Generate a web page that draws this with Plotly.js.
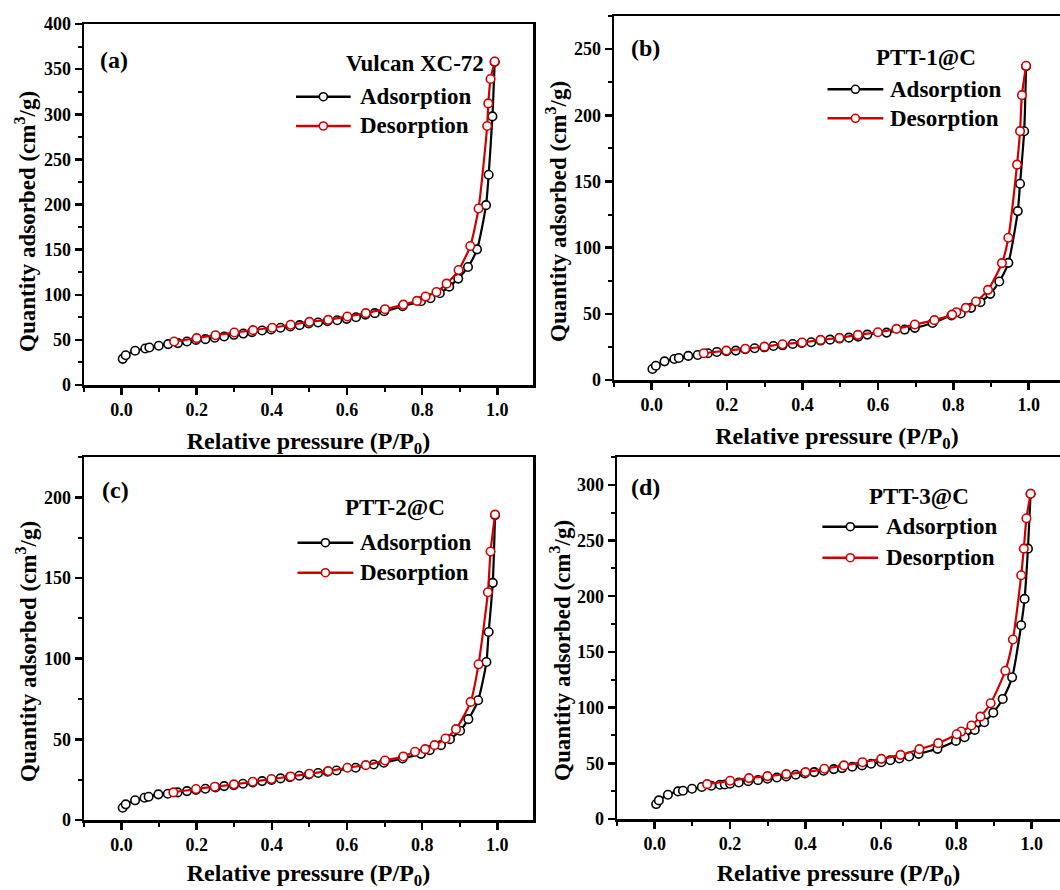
<!DOCTYPE html>
<html>
<head>
<meta charset="utf-8">
<script src="https://cdn.plot.ly/plotly-3.0.1.min.js"></script>
<style>html,body{margin:0;padding:0;background:#fff;}#chart{width:1060px;height:890px;}</style>
</head>
<body>
<div id="chart"></div>
<script>
// ---------------- DATA ----------------
const panelLetters = ['(a)', '(b)', '(c)', '(d)'];
const sampleNames = ['Vulcan XC-72', 'PTT-1@C', 'PTT-2@C', 'PTT-3@C'];
const seriesNames = ['Adsorption', 'Desorption'];
const xTitle = 'Relative pressure (P/P<sub>0</sub>)';
const yTitle = 'Quantity adsorbed (cm<sup>3</sup>/g)';

// (a) Vulcan XC-72
const aAdsX = [0.003,0.011,0.036,0.063,0.074,0.099,0.124,0.150,0.174,0.198,0.223,0.248,0.273,0.299,0.324,0.347,0.374,0.398,0.423,0.449,0.474,0.498,0.523,0.548,0.574,0.599,0.624,0.649,0.674,0.699,0.748,0.797,0.822,0.847,0.872,0.896,0.922,0.946,0.970,0.977,0.987,0.993];
const aAdsY = [29,33,38,40.5,41.6,43.5,45.3,46.4,48.2,50,50.8,52.3,53.8,55.6,57,58.6,60.4,61.5,63.4,64.8,66.3,68.1,69.2,70.7,71.8,73.3,75.1,78,79.6,81.8,87.3,92.8,96.1,101.7,109,117.9,130.8,150.3,199.3,233,297.6,358];
const aDesX = [0.993,0.982,0.976,0.973,0.950,0.928,0.897,0.865,0.838,0.809,0.786,0.750,0.701,0.650,0.601,0.550,0.500,0.450,0.401,0.350,0.300,0.250,0.200,0.140];
const aDesY = [358.4,339,312,287,195.6,154,127.4,112.3,103,98,93.2,89.1,84,79.6,75.9,72.2,70,66.7,63.4,60.8,58.2,55.2,51.9,48.2];

// (b) PTT-1@C
const bAdsX = [0.002,0.011,0.034,0.060,0.072,0.097,0.122,0.149,0.173,0.198,0.223,0.248,0.273,0.299,0.323,0.347,0.374,0.398,0.423,0.448,0.473,0.498,0.523,0.548,0.572,0.623,0.671,0.698,0.745,0.795,0.820,0.847,0.872,0.898,0.922,0.946,0.971,0.977,0.988,0.993];
const bAdsY = [8.3,10.8,14.1,15.9,16.6,18.2,18.9,20.2,21.2,21.7,22.2,23.2,24,24.7,25.7,26.2,27.2,28,28.5,29.8,30.5,31.3,32,32.8,34.3,35.8,38.1,39.4,43.1,48.7,50.2,54.5,58.8,65.1,74.4,88.5,127.6,148.3,187.9,237];
const bDesX = [0.993,0.982,0.977,0.969,0.946,0.929,0.892,0.860,0.833,0.808,0.797,0.750,0.698,0.649,0.600,0.547,0.498,0.448,0.399,0.347,0.299,0.248,0.198,0.138];
const bDesY = [237.4,215.2,188,162.7,107.5,88.3,68.1,59.3,54.5,51.2,49.4,45.2,41.9,38.6,36.1,34.1,31.8,30.3,28.3,27,25.2,23.6,22.2,20.2];

// (c) PTT-2@C
const cAdsX = [0.003,0.011,0.036,0.061,0.072,0.098,0.123,0.149,0.174,0.198,0.223,0.250,0.273,0.299,0.323,0.349,0.374,0.399,0.423,0.448,0.473,0.498,0.523,0.548,0.572,0.623,0.671,0.698,0.748,0.797,0.820,0.850,0.874,0.901,0.923,0.949,0.971,0.977,0.988,0.994];
const cAdsY = [7.6,9.7,12.2,13.8,14.4,15.9,16.3,17.1,17.9,18.6,19.4,20.2,21,21.6,22.5,23.3,24.1,24.9,25.8,26.6,27.4,28.2,29.1,29.9,30.7,32.4,34.4,35.5,38.1,41,43.3,46.4,50.1,55.3,62.5,74.2,97.9,116.5,147,189];
const cDesX = [0.994,0.982,0.975,0.950,0.929,0.890,0.862,0.833,0.808,0.781,0.750,0.701,0.650,0.601,0.550,0.500,0.450,0.399,0.349,0.299,0.248,0.198,0.138];
const cDesY = [189.3,166.4,141.2,96.5,73.2,56.3,50.5,46.4,43.9,42.3,39.4,36.9,34,32.4,30.3,28.7,27,25.4,23.7,22.1,20.6,19.2,17.1];

// (d) PTT-3@C
const dAdsX = [0.004,0.011,0.035,0.062,0.075,0.099,0.125,0.150,0.173,0.186,0.200,0.223,0.248,0.274,0.299,0.324,0.349,0.374,0.398,0.423,0.448,0.475,0.497,0.524,0.550,0.574,0.601,0.625,0.649,0.675,0.700,0.750,0.799,0.822,0.849,0.874,0.898,0.923,0.948,0.972,0.981,0.990,0.997];
const dAdsY = [13.4,16.7,21.8,24.8,25.4,27.2,28.7,29.9,30.7,31,31.6,32.8,34,34.9,36.1,37.3,38.2,39.7,40.9,42.1,43.3,44.8,45.7,46.9,48.1,49.6,51,52.8,54.3,56.1,58.5,63,70.1,73.4,80,86.9,95.5,107.8,127.2,174,197.6,242.7,292];
const dDesX = [0.997,0.986,0.979,0.972,0.950,0.930,0.891,0.864,0.840,0.813,0.801,0.752,0.702,0.652,0.601,0.551,0.502,0.450,0.400,0.349,0.299,0.250,0.200,0.139];
const dDesY = [292,270,242.7,218.8,161.2,133.1,103.9,91.9,83.9,78.5,76.1,68.1,62.7,57.6,54,51,48.1,45.1,42.1,40.3,38.5,36.7,34.3,31.3];

const yMax = [400, 275, 225, 325];

// ---------------- STYLE / LAYOUT ----------------
const W = 1060, H = 890;
const FONT = 'Liberation Serif, Times New Roman, serif';
const seriesColors = ['#000000', '#d00000'];
const px = v => v / W;
const py = v => 1 - v / H;

// plot boxes in pixels
const boxes = [
  {l: 84,  r: 533,  t: 24,  b: 385, xr: [-0.1, 1.095], mirrorY: true},
  {l: 614, r: 1060, t: 16,  b: 380, xr: [-0.1, 1.083], mirrorY: false},
  {l: 84,  r: 533,  t: 457, b: 820, xr: [-0.1, 1.095], mirrorY: true},
  {l: 617, r: 1060, t: 457, b: 819, xr: [-0.1, 1.075], mirrorY: false}
];
// legend/labels placement in pixels
const deco = [
  {lab: [113.7, 60],  title: [415, 63.3],  rows: [96.7, 126],   line: [296, 350.7],  text: 358.3, ytl: [25, 222]},
  {lab: [645, 48.3],  title: [926, 58.3],  rows: [89.3, 118.3], line: [827.5, 883.3], text: 888, ytl: [556, 212]},
  {lab: [115, 490],   title: [394.7, 508.3], rows: [542.7, 572.7], line: [297.5, 353.3], text: 358.4, ytl: [26, 652]},
  {lab: [645.7, 486.7], title: [918.8, 496.7], rows: [526.7, 557.7], line: [822.4, 878.2], text: 884.3, ytl: [560, 651]}
];

const allData = [
  [[aAdsX, aAdsY], [aDesX, aDesY]],
  [[bAdsX, bAdsY], [bDesX, bDesY]],
  [[cAdsX, cAdsY], [cDesX, cDesY]],
  [[dAdsX, dAdsY], [dDesX, dDesY]]
];

const traces = [];
const layout = {
  width: W, height: H,
  margin: {l: 0, r: 0, t: 0, b: 0},
  paper_bgcolor: '#ffffff', plot_bgcolor: '#ffffff',
  showlegend: false,
  font: {family: FONT, color: '#000', size: 18, weight: 'bold'},
  annotations: [], shapes: []
};

allData.forEach((pair, i) => {
  const sfx = i === 0 ? '' : String(i + 1);
  pair.forEach((xy, s) => {
    traces.push({
      type: 'scatter', mode: 'lines+markers',
      x: xy[0], y: xy[1],
      name: seriesNames[s],
      xaxis: 'x' + sfx, yaxis: 'y' + sfx,
      line: {color: seriesColors[s], width: 2.2, shape: 'spline', smoothing: 0.6},
      marker: {symbol: 'circle', size: 8.5, color: '#ffffff', line: {color: seriesColors[s], width: 1.6}},
      cliponaxis: false,
      hoverinfo: 'x+y'
    });
  });
  const bx = boxes[i];
  layout['xaxis' + sfx] = {
    domain: [px(bx.l), px(bx.r)], anchor: 'y' + sfx, range: bx.xr,
    showline: true, linecolor: '#000', linewidth: 2.5, mirror: true,
    showgrid: false, zeroline: false,
    ticks: 'outside', ticklen: 7, tickwidth: 2.5, tickcolor: '#000',
    tick0: 0, dtick: 0.2, tickformat: '.1f',
    minor: {ticks: 'outside', ticklen: 4, tickwidth: 2, tickcolor: '#000', dtick: 0.1, tick0: 0, showgrid: false},
    tickfont: {family: FONT, size: 18, weight: 'bold', color: '#000'},
    title: {text: xTitle, font: {family: FONT, size: 24, weight: 'bold', color: '#000'}, standoff: 13}
  };
  layout['yaxis' + sfx] = {
    domain: [py(bx.b), py(bx.t)], anchor: 'x' + sfx, range: [0, yMax[i]],
    showline: true, linecolor: '#000', linewidth: 2.5, mirror: bx.mirrorY,
    showgrid: false, zeroline: false,
    ticks: 'outside', ticklen: 7, tickwidth: 2.5, tickcolor: '#000',
    tick0: 0, dtick: 50,
    minor: {ticks: 'outside', ticklen: 4, tickwidth: 2, tickcolor: '#000', dtick: 25, tick0: 0, showgrid: false},
    tickfont: {family: FONT, size: 18, weight: 'bold', color: '#000'}
  };

  const d = deco[i];
  // y-axis title (placed as in the reference, slightly below the plot centre)
  layout.annotations.push({
    xref: 'paper', yref: 'paper', x: px(d.ytl[0]), y: py(d.ytl[1]),
    xanchor: 'center', yanchor: 'middle', showarrow: false, textangle: -90,
    text: yTitle, font: {family: FONT, size: 23, weight: 'bold', color: '#000'}
  });
  layout.annotations.push({
    xref: 'paper', yref: 'paper', x: px(d.lab[0]), y: py(d.lab[1]),
    xanchor: 'center', yanchor: 'middle', showarrow: false,
    text: panelLetters[i], font: {family: FONT, size: 24, weight: 'bold', color: '#000'}
  });
  layout.annotations.push({
    xref: 'paper', yref: 'paper', x: px(d.title[0]), y: py(d.title[1]),
    xanchor: 'center', yanchor: 'middle', showarrow: false,
    text: sampleNames[i], font: {family: FONT, size: 23, weight: 'bold', color: '#000'}
  });
  seriesNames.forEach((nm, s) => {
    const yy = py(d.rows[s]);
    layout.shapes.push({
      type: 'line', xref: 'paper', yref: 'paper',
      x0: px(d.line[0]), x1: px(d.line[1]), y0: yy, y1: yy,
      line: {color: seriesColors[s], width: 2.5}
    });
    layout.shapes.push({
      type: 'circle', xref: 'paper', yref: 'paper',
      xsizemode: 'pixel', ysizemode: 'pixel',
      xanchor: px((d.line[0] + d.line[1]) / 2), yanchor: yy,
      x0: -4, x1: 4, y0: -4, y1: 4,
      fillcolor: '#ffffff', line: {color: seriesColors[s], width: 1.6}
    });
    layout.annotations.push({
      xref: 'paper', yref: 'paper', x: px(d.text), y: yy,
      xanchor: 'left', yanchor: 'middle', showarrow: false,
      text: nm, font: {family: FONT, size: 23, weight: 'bold', color: '#000'}
    });
  });
});

Plotly.newPlot('chart', traces, layout, {displayModeBar: false, staticPlot: true});
</script>
</body>
</html>
